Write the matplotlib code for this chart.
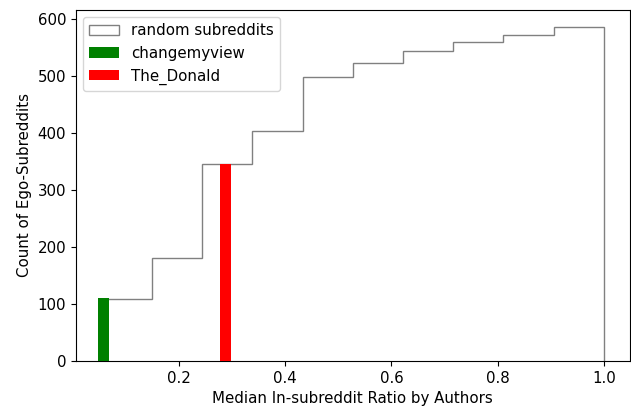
import matplotlib
matplotlib.use("Agg")
import matplotlib.pyplot as plt
import numpy as np

plt.rcParams['font.size'] = 10.8

# per-bin counts of random subreddits (drawn cumulatively)
bin_edges = np.linspace(0.0545, 1.0, 11)
bin_counts = [109, 72, 164, 58, 96, 24, 21, 16, 12, 15]

# single ego-subreddits
cmv_x, cmv_count = 0.058, 111
donald_x, donald_count = 0.287, 345
bar_width = 0.02

fig = plt.figure(figsize=(6.31, 4.09), dpi=100)
ax = fig.add_axes([0.1204, 0.1174, 0.8776, 0.8582])

centers = (bin_edges[:-1] + bin_edges[1:]) / 2
ax.hist(centers, bins=bin_edges, weights=bin_counts, cumulative=True,
        histtype='step', color='gray', label='random subreddits', zorder=1)
ax.bar([cmv_x], [cmv_count], width=bar_width, color='green', label='changemyview', zorder=3)
ax.bar([donald_x], [donald_count], width=bar_width, color='red', label='The_Donald', zorder=3)

ax.set_xlim(0.0057, 1.049)
ax.set_ylim(0, 616)
ax.set_xticks([0.2, 0.4, 0.6, 0.8, 1.0])
ax.set_yticks(range(0, 601, 100))
ax.set_xlabel('Median In-subreddit Ratio by Authors')
ax.set_ylabel('Count of Ego-Subreddits')
ax.legend(loc='upper left')

fig.savefig('out.png', dpi=100)
